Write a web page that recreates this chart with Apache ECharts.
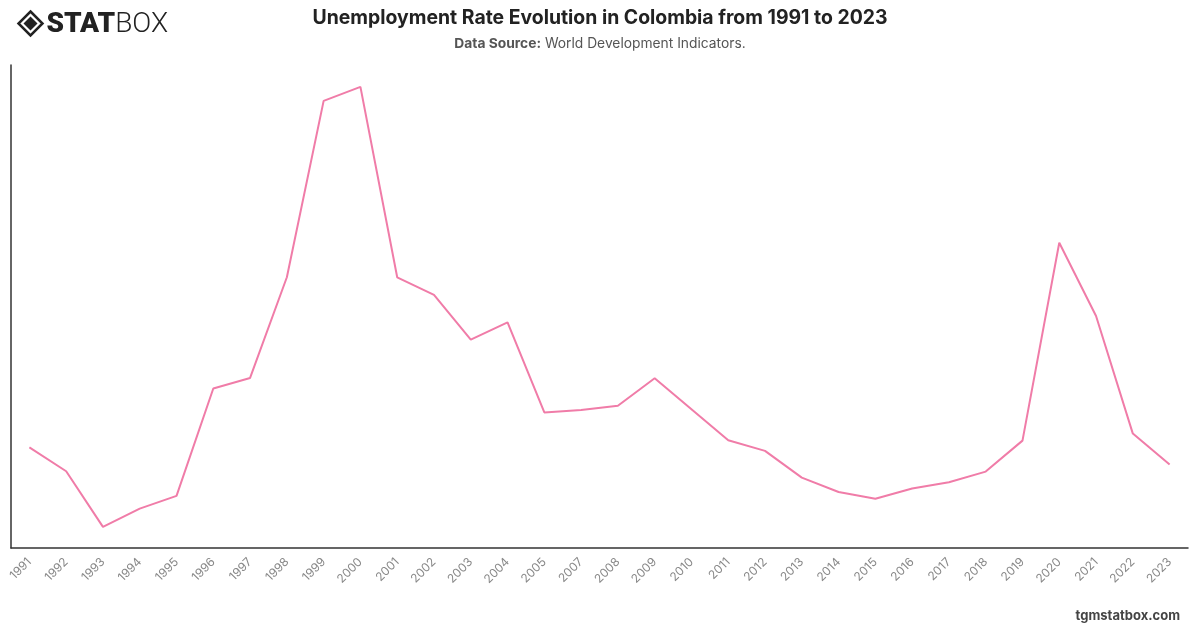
<!DOCTYPE html>
<html>
<head>
<meta charset="utf-8">
<title>Unemployment Rate Evolution in Colombia</title>
<script src="https://cdn.jsdelivr.net/npm/echarts@6/dist/echarts.min.js"></script>
<style>
  html, body { margin: 0; padding: 0; background: #fff; }
  #main { width: 1200px; height: 628px; }
</style>
</head>
<body>
<div id="main"></div>
<script>
// years on the axis (2006 is not in the source)
var years = ['1991', '1992', '1993', '1994', '1995', '1996', '1997', '1998', '1999', '2000',
  '2001', '2002', '2003', '2004', '2005', '2007', '2008', '2009', '2010', '2011',
  '2012', '2013', '2014', '2015', '2016', '2017', '2018', '2019', '2020', '2021',
  '2022', '2023']

// unemployment rate, % of labour force
var unemployment = [10.26, 9.58, 8.0, 8.52, 8.88, 11.93, 12.23, 15.09, 20.10, 20.5,
  15.09, 14.59, 13.32, 13.81, 11.25, 11.32, 11.44, 12.22, 11.34, 10.46,
  10.16, 9.40, 8.99, 8.80, 9.09, 9.27, 9.57, 10.45, 16.07, 13.99,
  10.65, 9.77]

var chart = echarts.init(document.getElementById('main'))

var option = {
  backgroundColor: '#fff',
  animation: false,
  title: {
    text: 'Unemployment Rate Evolution in Colombia from 1991 to 2023',
    subtext: '{b|Data Source:} World Development Indicators.',
    left: 'center',
    top: 4,
    itemGap: 9,
    textStyle: {
      fontFamily: 'Inter',
      fontSize: 19.4,
      fontWeight: 'bold',
      color: '#222'
    },
    subtextStyle: {
      fontFamily: 'Inter',
      fontSize: 13.8,
      color: '#555',
      rich: {
        b: { fontFamily: 'Inter', fontSize: 13.8, fontWeight: 'bold', color: '#555' }
      }
    }
  },
  grid: {
    left: 11,
    right: 12,
    top: 65,
    bottom: 80,
    containLabel: false
  },
  xAxis: {
    type: 'category',
    data: years,
    boundaryGap: true,
    axisLine: { show: true, lineStyle: { color: '#333', width: 1.5 } },
    axisTick: { show: false },
    axisLabel: {
      rotate: 45,
      interval: 0,
      margin: 12,
      fontFamily: 'Inter',
      fontSize: 12,
      color: '#888'
    },
    splitLine: { show: false }
  },
  yAxis: {
    type: 'value',
    min: 7.4,
    max: 21.12,
    axisLine: { show: true, lineStyle: { color: '#333', width: 1.5 } },
    axisTick: { show: false },
    axisLabel: { show: false },
    splitLine: { show: false }
  },
  series: [
    {
      name: 'Unemployment',
      type: 'line',
      data: unemployment,
      showSymbol: false,
      symbol: 'none',
      lineStyle: { color: '#f07ca8', width: 2 }
    }
  ],
  graphic: [
    // logo: diamond mark + STATBOX wordmark
    {
      type: 'group',
      left: 16,
      top: 9,
      children: [
        {
          type: 'polygon',
          shape: { points: [[12, 0], [24, 12], [12, 24], [0, 12]] },
          style: { fill: 'none', stroke: '#222', lineWidth: 2.5 }
        },
        {
          type: 'polygon',
          shape: { points: [[12, 5], [19, 12], [12, 19], [5, 12]] },
          style: { fill: '#222' }
        },
        {
          type: 'text',
          x: 28,
          y: 0,
          style: {
            text: '{s|STAT}{b|BOX}',
            rich: {
              s: { fontFamily: 'Roboto', fontSize: 28, fontWeight: 900, fill: '#222', lineHeight: 26 },
              b: { fontFamily: 'Roboto', fontSize: 28, fontWeight: 300, fill: '#222', lineHeight: 26 }
            }
          }
        }
      ]
    },
    {
      type: 'text',
      right: 20,
      top: 610,
      style: {
        text: 'tgmstatbox.com',
        fontFamily: 'Inter',
        fontSize: 13,
        fontWeight: 'bold',
        fill: '#444'
      }
    }
  ]
}

chart.setOption(option)
</script>
</body>
</html>
